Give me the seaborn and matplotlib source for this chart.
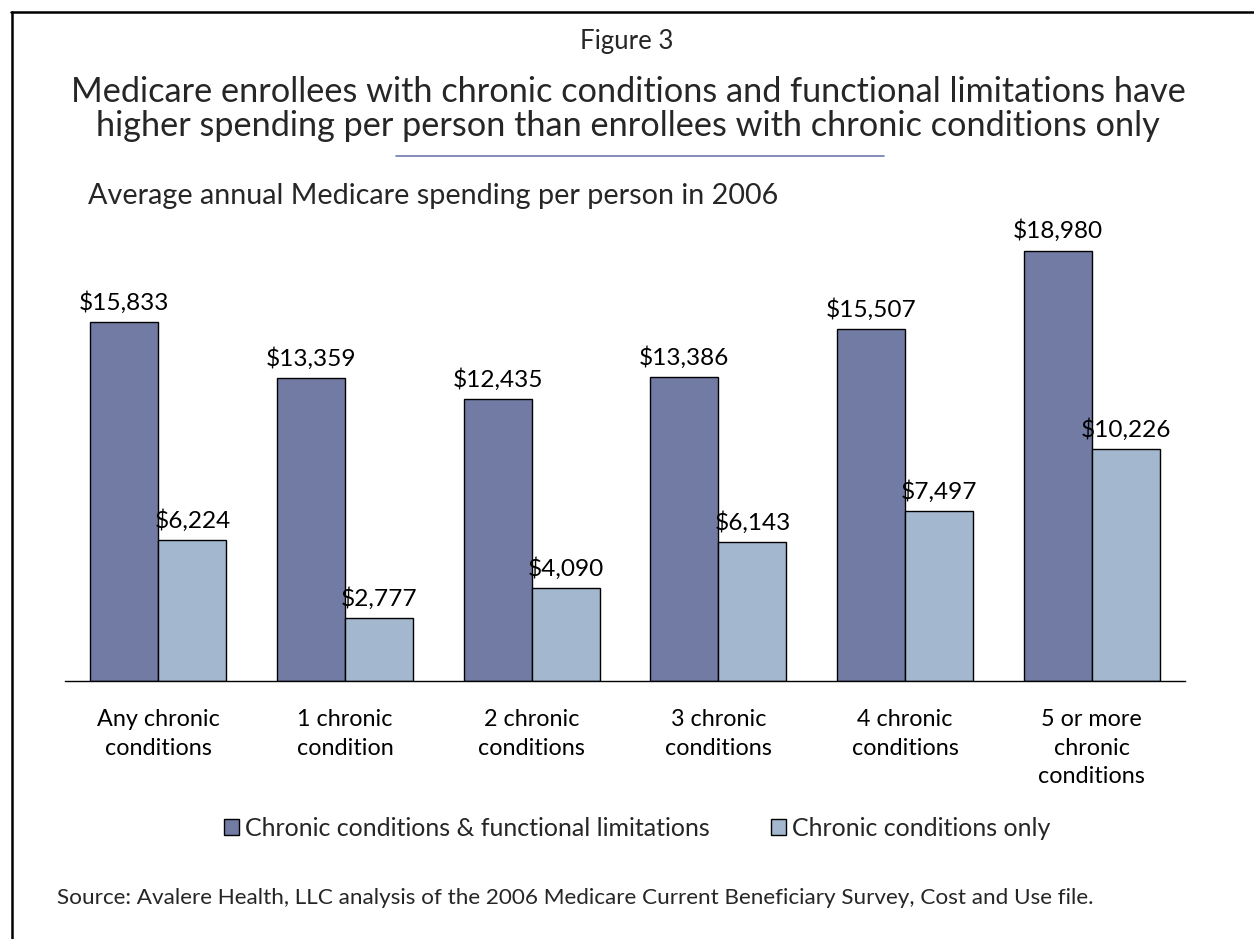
import matplotlib
matplotlib.use("Agg")
import matplotlib.pyplot as plt
from matplotlib.lines import Line2D
import pandas as pd
import seaborn as sns

categories = [
    "Any chronic\nconditions",
    "1 chronic\ncondition",
    "2 chronic\nconditions",
    "3 chronic\nconditions",
    "4 chronic\nconditions",
    "5 or more\nchronic\nconditions",
]
series_names = ["Chronic conditions & functional limitations", "Chronic conditions only"]
with_limitations = [15833, 13359, 12435, 13386, 15507, 18980]
chronic_only = [6224, 2777, 4090, 6143, 7497, 10226]

dark = "#727BA3"
light = "#A3B8CE"

sns.set_theme(style="white")
plt.rcParams["font.family"] = ["Lato", "DejaVu Sans"]

df = pd.DataFrame({
    "category": categories * 2,
    "series": [series_names[0]] * len(categories) + [series_names[1]] * len(categories),
    "spending": with_limitations + chronic_only,
})

W, H = 1254, 939
fig = plt.figure(figsize=(W / 100, H / 100), dpi=100)

# plot area: x 65..1185 px, baseline at y=681 px
ymax = 20000
px_per_dollar = 359 / 15833
ax_h = ymax * px_per_dollar
ax = fig.add_axes([65 / W, 1 - 681 / H, 1120 / W, ax_h / H])

sns.barplot(
    data=df, x="category", y="spending", hue="series",
    palette=[dark, light], width=0.73, saturation=1,
    edgecolor="black", linewidth=1.0, ax=ax,
)
ax.set_ylim(0, ymax)
ax.set_xlim(-0.5, len(categories) - 0.5)

for cont in ax.containers:
    vals = [bar.get_height() for bar in cont]
    ax.bar_label(cont, labels=[f"${v:,.0f}" for v in vals], padding=6,
                 fontsize=17.6, color="black")

for side in ["top", "right", "left"]:
    ax.spines[side].set_visible(False)
ax.spines["bottom"].set_color("black")
ax.spines["bottom"].set_linewidth(1.0)
ax.set_yticks([])
ax.set_xlabel("")
ax.set_ylabel("")
ax.tick_params(axis="x", length=0, pad=20, labelsize=16.8, colors="black")
for lbl in ax.get_xticklabels():
    lbl.set_linespacing(1.46)
    lbl.set_verticalalignment("top")

# legend below the categories
handles, labels = ax.get_legend_handles_labels()
ax.legend_.remove()
fig.legend(
    handles, labels, loc="center", bbox_to_anchor=(637 / W, 1 - 828 / H),
    ncol=2, frameon=False, fontsize=18, handlelength=0.6, handleheight=0.6,
    handletextpad=0.25, columnspacing=2.45,
)

# titles
fig.text(627 / W, 1 - 42 / H, "Figure 3", ha="center", va="center", fontsize=18.5)
fig.text(628 / W, 1 - 109 / H,
         "Medicare enrollees with chronic conditions and functional limitations have\n"
         "higher spending per person than enrollees with chronic conditions only",
         ha="center", va="center", fontsize=24.7, linespacing=1.05)
fig.add_artist(Line2D([396 / W, 884 / W], [1 - 156 / H, 1 - 156 / H],
                      transform=fig.transFigure, color="#6E7AAE", linewidth=1.2))
fig.text(88 / W, 1 - 196 / H, "Average annual Medicare spending per person in 2006",
         ha="left", va="center", fontsize=20.7)
fig.text(57 / W, 1 - 898 / H,
         "Source: Avalere Health, LLC analysis of the 2006 Medicare Current Beneficiary Survey, Cost and Use file.",
         ha="left", va="center", fontsize=16.2)

# frame: left and top edges
fig.add_artist(Line2D([12 / W, 12 / W], [0, 1 - 11.5 / H], transform=fig.transFigure,
                      color="black", linewidth=1.8))
fig.add_artist(Line2D([11 / W, 1], [1 - 11.5 / H, 1 - 11.5 / H], transform=fig.transFigure,
                      color="black", linewidth=1.8))

fig.savefig("out.png", dpi=100, facecolor="white")
